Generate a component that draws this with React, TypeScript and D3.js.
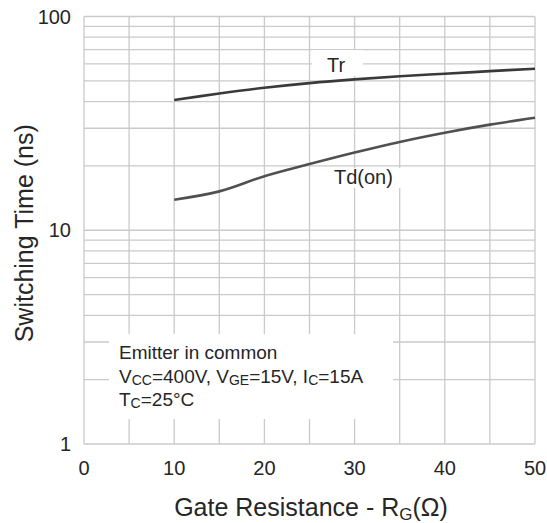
import React from "react";
import * as d3 from "d3";

const rgValues = [10, 15, 20, 25, 30, 35, 40, 45, 50];
const trValues = [40.7, 43.6, 46.4, 48.8, 50.8, 52.5, 54, 55.5, 57];
const tdOnValues = [13.9, 15.2, 17.9, 20.4, 23.1, 25.9, 28.6, 31.2, 33.6];
const xTicks = [0, 10, 20, 30, 40, 50];
const yTicks = [1, 10, 100];
const xGrid = [0, 5, 10, 15, 20, 25, 30, 35, 40, 45, 50];
const yGrid = [1, 2, 3, 4, 5, 6, 7, 8, 9, 10, 20, 30, 40, 50, 60, 70, 80, 90, 100];

const W = 547;
const H = 523;
const FONT = "'Liberation Sans', Arial, sans-serif";

export default function App() {
  const x = d3.scaleLinear().domain([0, 50]).range([84, 535]);
  const y = d3.scaleLog().domain([1, 100]).range([444, 16.5]);
  const line = d3
    .line<number>()
    .x((_, i) => x(rgValues[i]))
    .y((d) => y(d))
    .curve(d3.curveCatmullRom);
  const gridColor = "#cacaca";
  const textColor = "#262626";
  return (
    <svg
      width={W}
      height={H}
      style={{ position: "absolute", left: 0, top: 0, background: "#fff" }}
      fontFamily={FONT}
    >
      <rect x={0} y={0} width={W} height={H} fill="#fff" />
      {yGrid.map((v) => (
        <line key={"h" + v} x1={x(0)} x2={x(50)} y1={y(v)} y2={y(v)} stroke={gridColor} strokeWidth={1.3} />
      ))}
      {xGrid.map((v) => (
        <line key={"v" + v} x1={x(v)} x2={x(v)} y1={y(1)} y2={y(100)} stroke={gridColor} strokeWidth={1.3} />
      ))}
      {/* label boxes hiding grid */}
      <rect x={312} y={50} width={51} height={26} fill="#fff" />
      <rect x={330} y={168} width={72} height={20} fill="#fff" />
      <rect x={109} y={334} width={284} height={85} fill="#fff" />
      <path d={line(trValues) || ""} fill="none" stroke="#3a3a3a" strokeWidth={2.6} />
      <path d={line(tdOnValues) || ""} fill="none" stroke="#505050" strokeWidth={2.6} />
      <text x={327} y={72} fontSize={20} fill={textColor}>Tr</text>
      <text x={334} y={184} fontSize={20} fill={textColor}>Td(on)</text>
      <g fontSize={19} fill={textColor}>
        <text x={119} y={359}>Emitter in common</text>
        <text x={119} y={383}>
          V<tspan fontSize={14} dy={2}>CC</tspan>
          <tspan dy={-2}>=400V, V</tspan>
          <tspan fontSize={14} dy={2}>GE</tspan>
          <tspan dy={-2}>=15V, I</tspan>
          <tspan fontSize={14} dy={2}>C</tspan>
          <tspan dy={-2}>=15A</tspan>
        </text>
        <text x={119} y={406}>
          T<tspan fontSize={14} dy={2}>C</tspan>
          <tspan dy={-2}>=25°C</tspan>
        </text>
      </g>
      {yTicks.map((v) => (
        <text key={"yt" + v} x={71} y={y(v) + 7} fontSize={20} textAnchor="end" fill={textColor}>
          {v}
        </text>
      ))}
      {xTicks.map((v) => (
        <text key={"xt" + v} x={x(v)} y={475} fontSize={20} textAnchor="middle" fill={textColor}>
          {v}
        </text>
      ))}
      <text
        transform={`translate(33,${(y(1) + y(100)) / 2 + 3}) rotate(-90)`}
        fontSize={25}
        textAnchor="middle"
        fill={textColor}
      >
        Switching Time (ns)
      </text>
      <text x={311} y={516} fontSize={25} textAnchor="middle" fill={textColor}>
        Gate Resistance - R<tspan fontSize={17} dy={4}>G</tspan>
        <tspan dy={-4}>(Ω)</tspan>
      </text>
    </svg>
  );
}
